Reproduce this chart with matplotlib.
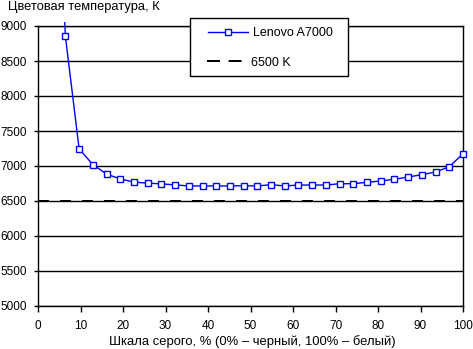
import matplotlib
matplotlib.use("Agg")
import matplotlib.pyplot as plt
from matplotlib.patches import Rectangle
from matplotlib.lines import Line2D

# Grey-scale steps (percent) and measured colour temperature, K
gray_pct = [100 * k / 31 for k in range(1, 32)]
temp_k = [13000, 8850, 7245, 7020, 6885, 6815, 6770, 6755, 6745, 6730,
          6715, 6715, 6715, 6715, 6718, 6715, 6733, 6715, 6728, 6728,
          6728, 6747, 6747, 6767, 6786, 6810, 6843, 6876, 6914, 6990, 7175]
ref_temp = 6500
series_name = "Lenovo A7000"
ref_name = "6500 K"
x_ticks = list(range(0, 101, 10))
y_ticks = list(range(5000, 9001, 500))

plt.rcParams['font.family'] = ['Liberation Sans', 'DejaVu Sans']
plt.rcParams['font.size'] = 9

W, H = 473, 349
fig = plt.figure(figsize=(W / 100, H / 100), dpi=100)


def fx(px):
    return px / W


def fy(py):
    return 1 - py / H


ax = fig.add_axes([fx(38), fy(306), fx(463) - fx(38), fy(26) - fy(306)])

ax.set_xlim(0, 100)
ax.set_ylim(5000, 9000)
ax.set_yticks(y_ticks)
ax.set_xticks(x_ticks)
ax.yaxis.grid(True, color='black', linewidth=1)
ax.set_axisbelow(True)
for s in ax.spines.values():
    s.set_color('black')
    s.set_linewidth(1)
ax.tick_params(axis='y', direction='out', length=3, width=1, colors='black',
               labelsize=8.5, pad=5)
ax.tick_params(axis='x', direction='out', length=4, width=1, colors='black',
               labelsize=8.5, pad=6)

blue = '#0000ff'
line_style = dict(color=blue, linewidth=1, marker='s', markersize=5,
                  markerfacecolor='white', markeredgecolor=blue,
                  markeredgewidth=1)
ref_style = dict(color='black', linewidth=1.44)

ax.plot([0, 100], [ref_temp, ref_temp], dashes=(5.5, 5.5), zorder=2, **ref_style)
line, = ax.plot(gray_pct, temp_k, zorder=3, **line_style)
clip = Rectangle((-0.03, -0.03), 1.06, 1.046, transform=ax.transAxes,
                 visible=False)
ax.add_patch(clip)
line.set_clip_path(clip)

# Legend box
tf = fig.transFigure
fig.add_artist(Rectangle((fx(189.5), fy(75.5)), fx(347.5) - fx(189.5),
                         fy(17.5) - fy(75.5), transform=tf, facecolor='white',
                         edgecolor='black', linewidth=1, zorder=5))
fig.add_artist(Line2D([fx(208), fx(248)], [fy(31.5), fy(31.5)], transform=tf,
                      markevery=[], zorder=6, **line_style))
fig.add_artist(Line2D([fx(228)], [fy(31.5)], transform=tf, zorder=7,
                      linestyle='none', **{k: v for k, v in line_style.items()
                                           if k not in ('color', 'linewidth')}))
fig.add_artist(Line2D([fx(207), fx(243)], [fy(61), fy(61)], transform=tf,
                      dashes=(6.5, 4.3), zorder=6, **ref_style))
fig.text(fx(252.5), fy(31.5), series_name, ha='left', va='center_baseline',
         fontsize=9, zorder=8)
fig.text(fx(251), fy(61), ref_name, ha='left', va='center_baseline',
         fontsize=9, zorder=8)

fig.text(fx(8), fy(10), "Цветовая температура, К", ha='left', va='baseline',
         fontsize=9.3)
fig.text(fx(252.5), fy(345.5), "Шкала серого, % (0% – черный, 100% – белый)",
         ha='center', va='baseline', fontsize=9.35)

fig.savefig("out.png", dpi=100)
